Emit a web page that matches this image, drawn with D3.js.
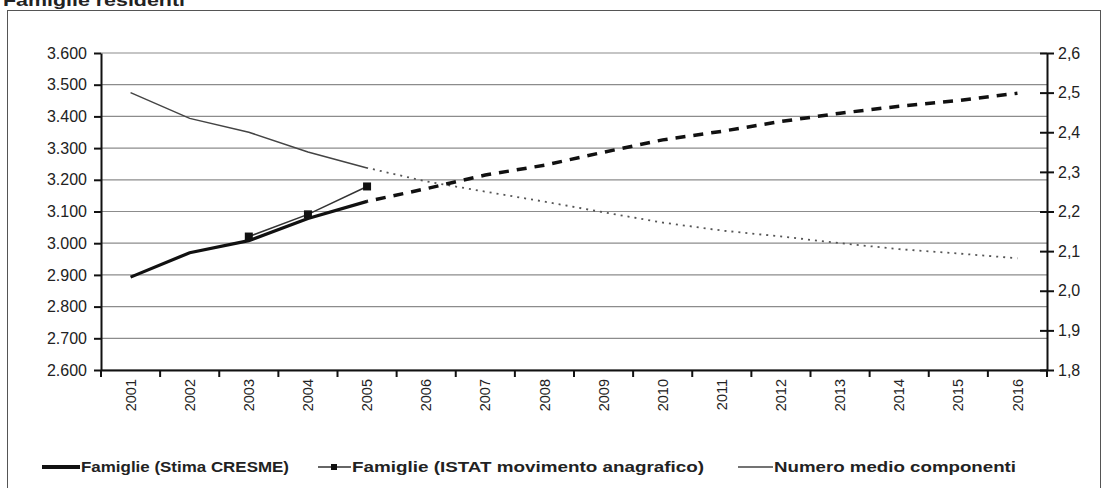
<!DOCTYPE html>
<html>
<head>
<meta charset="utf-8">
<script src="https://cdn.jsdelivr.net/npm/d3@7"></script>
<style>
  body { margin: 0; background: #fff; }
  svg { display: block; font-family: "Liberation Sans", Arial, sans-serif; }
</style>
</head>
<body>
<svg id="chart" width="1104" height="488"></svg>
<script>
// years on the x axis
var years = ['2001','2002','2003','2004','2005','2006','2007','2008',
             '2009','2010','2011','2012','2013','2014','2015','2016'];

// Famiglie (Stima CRESME), left axis: observed 2001-2005, projection 2005-2016
var cresmeYears = ['2001','2002','2003','2004','2005'];
var cresmeValues = [2893, 2970, 3008, 3078, 3132];
var cresmeProjYears = ['2005','2006','2007','2008','2009','2010','2011','2012','2013','2014','2015','2016'];
var cresmeProjValues = [3132, 3172, 3215, 3246, 3287, 3326, 3353, 3384, 3410, 3432, 3450, 3473];

// Famiglie (ISTAT movimento anagrafico), left axis
var istatYears = ['2003','2004','2005'];
var istatValues = [3021, 3091, 3179];

// Numero medio componenti, right axis
var compYears = ['2001','2002','2003','2004','2005'];
var compValues = [2.50, 2.435, 2.40, 2.35, 2.31];
var compProjYears = ['2005','2006','2007','2008','2009','2010','2011','2012','2013','2014','2015','2016'];
var compProjValues = [2.31, 2.276, 2.25, 2.225, 2.198, 2.172, 2.152, 2.137, 2.12, 2.105, 2.094, 2.082];

var leftTicks = [2600, 2700, 2800, 2900, 3000, 3100, 3200, 3300, 3400, 3500, 3600];
var rightTicks = [1.8, 1.9, 2.0, 2.1, 2.2, 2.3, 2.4, 2.5, 2.6];

var legendLabels = ['Famiglie (Stima CRESME)', 'Famiglie (ISTAT movimento anagrafico)', 'Numero medio componenti'];

var svg = d3.select('#chart');
var plot = {left: 101, right: 1047, top: 53, bottom: 370};

var xs = d3.scaleBand().domain(years).range([plot.left, plot.right]);
var yl = d3.scaleLinear().domain([2600, 3600]).range([plot.bottom, plot.top]);
var yr = d3.scaleLinear().domain([1.8, 2.6]).range([plot.bottom, plot.top]);
var cx = function (y) { return xs(y) + xs.bandwidth() / 2; };

var itFmt = function (v) { return d3.format(',')(v).replace(',', '.'); };
var itDec = function (v) { return d3.format('.1f')(v).replace('.', ','); };

// outer frame and title
svg.append('rect')
    .attr('x', 7.5).attr('y', 10.5).attr('width', 1093).attr('height', 490)
    .attr('fill', 'none').attr('stroke', '#555').attr('stroke-width', 1);
svg.append('text')
    .attr('x', 3).attr('y', 6)
    .attr('font-size', 17).attr('font-weight', 'bold').attr('fill', '#222')
    .attr('textLength', 182).attr('lengthAdjust', 'spacingAndGlyphs')
    .text('Famiglie residenti');

// gridlines
svg.append('g').selectAll('line').data(leftTicks).enter().append('line')
    .attr('x1', plot.left).attr('x2', plot.right)
    .attr('y1', function (d) { return yl(d); })
    .attr('y2', function (d) { return yl(d); })
    .attr('stroke', '#8c8c8c').attr('stroke-width', 1.2);

// axes
var gl = svg.append('g').attr('transform', 'translate(' + plot.left + ',0)')
    .call(d3.axisLeft(yl).tickValues(leftTicks).tickFormat(itFmt).tickSize(7).tickSizeOuter(0));
var gr = svg.append('g').attr('transform', 'translate(' + plot.right + ',0)')
    .call(d3.axisRight(yr).tickValues(rightTicks).tickFormat(itDec).tickSize(7).tickSizeOuter(0));
gr.selectAll('.tick line').attr('x1', -7);
var tickPos = years.map(function (y) { return xs(y); }).concat([plot.right]);
var gb = svg.append('g').attr('transform', 'translate(0,' + plot.bottom + ')')
    .call(d3.axisBottom(xs).tickSize(0).tickSizeOuter(0));
gb.selectAll('.tick text')
    .attr('transform', 'rotate(-90)')
    .attr('text-anchor', 'end')
    .attr('x', -9).attr('y', 0).attr('dy', '0.35em');
gb.selectAll('.tickmark').data(tickPos).enter().append('line')
    .attr('x1', function (d) { return d; }).attr('x2', function (d) { return d; })
    .attr('y1', 0).attr('y2', 7)
    .attr('stroke', '#111').attr('stroke-width', 2);

[gl, gr, gb].forEach(function (g) {
    g.select('.domain').attr('stroke', '#111').attr('stroke-width', 2);
    g.selectAll('.tick line').attr('stroke', '#111').attr('stroke-width', 2);
    g.selectAll('.tick text').attr('font-size', 16).attr('fill', '#222')
        .attr('font-family', '"Liberation Sans", Arial, sans-serif');
});
gb.selectAll('.tick text').attr('font-size', 14.5);
gl.selectAll('.tick text').attr('x', -14);
gr.selectAll('.tick text').attr('x', 11);

// series
var lineL = d3.line().x(function (d) { return cx(d[0]); }).y(function (d) { return yl(d[1]); });
var lineR = d3.line().x(function (d) { return cx(d[0]); }).y(function (d) { return yr(d[1]); });
var zip = function (a, b) { return a.map(function (k, i) { return [k, b[i]]; }); };

svg.append('path').datum(zip(compYears, compValues)).attr('d', lineR)
    .attr('fill', 'none').attr('stroke', '#444').attr('stroke-width', 1.5);
svg.append('path').datum(zip(compProjYears, compProjValues)).attr('d', lineR)
    .attr('fill', 'none').attr('stroke', '#555').attr('stroke-width', 1.8)
    .attr('stroke-dasharray', '2,5').attr('stroke-dashoffset', -6);

svg.append('path').datum(zip(istatYears, istatValues)).attr('d', lineL)
    .attr('fill', 'none').attr('stroke', '#333').attr('stroke-width', 1.5);
svg.append('g').selectAll('rect').data(zip(istatYears, istatValues)).enter().append('rect')
    .attr('x', function (d) { return cx(d[0]) - 4; })
    .attr('y', function (d) { return yl(d[1]) - 4; })
    .attr('width', 8).attr('height', 8).attr('fill', '#111');

svg.append('path').datum(zip(cresmeYears, cresmeValues)).attr('d', lineL)
    .attr('fill', 'none').attr('stroke', '#111').attr('stroke-width', 3.2);
svg.append('path').datum(zip(cresmeProjYears, cresmeProjValues)).attr('d', lineL)
    .attr('fill', 'none').attr('stroke', '#111').attr('stroke-width', 3.5)
    .attr('stroke-dasharray', '10,8').attr('stroke-dashoffset', -9);

// legend
var lg = svg.append('g').attr('font-size', 15).attr('font-weight', 'bold').attr('fill', '#222');
var legY = 467;
lg.append('line').attr('x1', 42).attr('x2', 80).attr('y1', legY).attr('y2', legY)
    .attr('stroke', '#111').attr('stroke-width', 4);
lg.append('text').attr('x', 81).attr('y', legY).attr('dy', '0.35em')
    .attr('textLength', 208).attr('lengthAdjust', 'spacingAndGlyphs').text(legendLabels[0]);
lg.append('line').attr('x1', 318).attr('x2', 351).attr('y1', legY).attr('y2', legY)
    .attr('stroke', '#333').attr('stroke-width', 1.5);
lg.append('rect').attr('x', 331).attr('y', legY - 3).attr('width', 6).attr('height', 6).attr('fill', '#111');
lg.append('text').attr('x', 352).attr('y', legY).attr('dy', '0.35em')
    .attr('textLength', 352).attr('lengthAdjust', 'spacingAndGlyphs').text(legendLabels[1]);
lg.append('line').attr('x1', 738).attr('x2', 773).attr('y1', legY).attr('y2', legY)
    .attr('stroke', '#444').attr('stroke-width', 1.5);
lg.append('text').attr('x', 774).attr('y', legY).attr('dy', '0.35em')
    .attr('textLength', 242).attr('lengthAdjust', 'spacingAndGlyphs').text(legendLabels[2]);
</script>
</body>
</html>
